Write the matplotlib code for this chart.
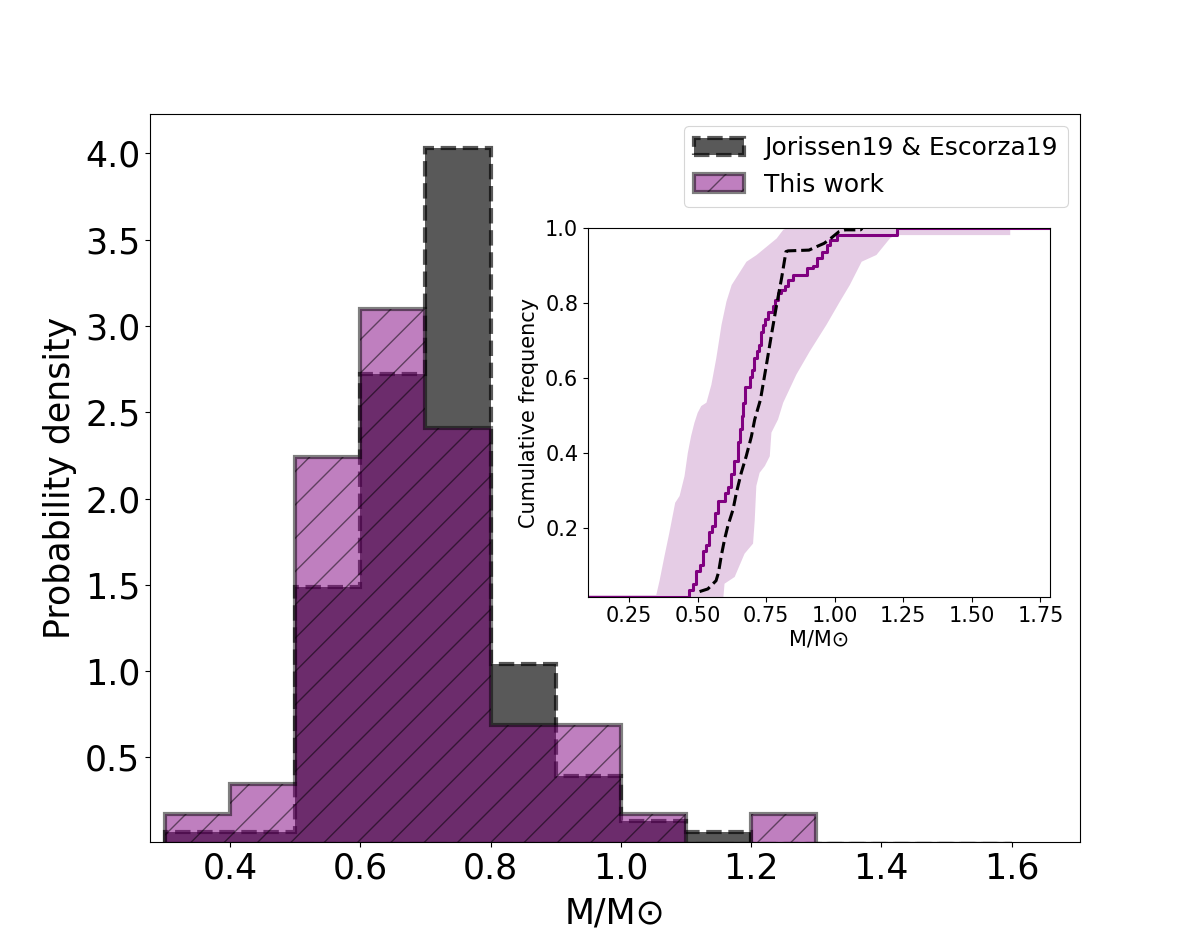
import matplotlib
matplotlib.use("Agg")
import matplotlib.pyplot as plt
import numpy as np

# histogram bins (M/Msun) and probability densities per bin
bin_edges = [0.3, 0.4, 0.5, 0.6, 0.7, 0.8, 0.9, 1.0, 1.1, 1.2, 1.3, 1.4, 1.5, 1.6]
jorissen_density = [0.065, 0.065, 1.49, 2.72, 4.03, 1.04, 0.39, 0.13, 0.065, 0.0, 0.0, 0.0, 0.0]
this_work_density = [0.172, 0.345, 2.24, 3.10, 2.41, 0.69, 0.69, 0.172, 0.0, 0.172, 0.0, 0.0, 0.0]

# cumulative curve of this work (step knots)
cdf_work_x = [0.100, 0.470, 0.482, 0.495, 0.507, 0.519, 0.532, 0.543, 0.552, 0.562,
              0.574, 0.599, 0.610, 0.622, 0.633, 0.647, 0.656, 0.660, 0.666, 0.672,
              0.690, 0.697, 0.705, 0.715, 0.722, 0.730, 0.740, 0.745, 0.757, 0.775,
              0.782, 0.792, 0.805, 0.820, 0.830, 0.848, 0.897, 0.921, 0.934, 0.952,
              0.970, 0.983, 1.007, 1.226, 1.785]
cdf_work_y = [0.017, 0.034, 0.052, 0.086, 0.103, 0.138, 0.155, 0.190, 0.207, 0.241,
              0.272, 0.293, 0.310, 0.345, 0.379, 0.431, 0.466, 0.500, 0.534, 0.578,
              0.603, 0.621, 0.655, 0.672, 0.690, 0.724, 0.741, 0.759, 0.778, 0.793,
              0.810, 0.828, 0.836, 0.845, 0.862, 0.876, 0.893, 0.900, 0.920, 0.938,
              0.955, 0.969, 0.983, 1.000, 1.000]

# cumulative curve of Jorissen19 & Escorza19
cdf_jor_x = [0.507, 0.537, 0.567, 0.576, 0.586, 0.598, 0.610, 0.629, 0.641, 0.659,
             0.677, 0.696, 0.708, 0.729, 0.751, 0.769, 0.788, 0.806, 0.822, 0.830,
             0.906, 0.930, 0.961, 0.985, 1.015, 1.039, 1.094, 1.100]
cdf_jor_y = [0.031, 0.038, 0.060, 0.082, 0.126, 0.170, 0.206, 0.250, 0.294, 0.348,
             0.392, 0.445, 0.490, 0.543, 0.637, 0.716, 0.796, 0.867, 0.938, 0.940,
             0.942, 0.950, 0.960, 0.973, 0.991, 0.996, 0.996, 1.000]

# uncertainty band of this work: left (low-mass) edge going up, right edge going down
band_left_x = [0.100, 0.100, 0.349, 0.361, 0.379, 0.397, 0.418, 0.434, 0.452, 0.464,
               0.476, 0.488, 0.500, 0.513, 0.532, 0.550, 0.568, 0.587, 0.605, 0.624,
               0.678, 0.715, 0.788, 0.812, 0.824, 1.640]
band_left_y = [0.000, 0.022, 0.022, 0.060, 0.126, 0.189, 0.268, 0.286, 0.339, 0.401,
               0.446, 0.481, 0.508, 0.526, 0.535, 0.583, 0.654, 0.743, 0.805, 0.849,
               0.911, 0.929, 0.973, 0.996, 1.000, 1.000]
band_right_x = [1.640, 1.219, 1.201, 1.152, 1.098, 1.055, 1.019, 0.970, 0.909, 0.860,
                0.812, 0.793, 0.769, 0.763, 0.745, 0.726, 0.714, 0.708, 0.702, 0.671,
                0.635, 0.598, 0.592]
band_right_y = [0.982, 0.982, 0.973, 0.929, 0.911, 0.849, 0.805, 0.743, 0.672, 0.610,
                0.535, 0.490, 0.455, 0.392, 0.366, 0.348, 0.313, 0.220, 0.159, 0.132,
                0.070, 0.052, 0.000]

plt.rcParams["hatch.linewidth"] = 0.5
plt.rcParams["axes.linewidth"] = 0.4
for ax_name in ("xtick", "ytick"):
    plt.rcParams[f"{ax_name}.major.size"] = 1.75
    plt.rcParams[f"{ax_name}.major.width"] = 0.4
    plt.rcParams[f"{ax_name}.major.pad"] = 1.75

fig = plt.figure(figsize=(6, 4.73), dpi=200)
ax = fig.add_subplot(111)

centers = 0.5 * (np.array(bin_edges[:-1]) + np.array(bin_edges[1:]))
ax.hist(centers, bins=bin_edges, weights=jorissen_density, histtype="stepfilled",
        facecolor="k", edgecolor="k", alpha=0.65, linestyle="--", linewidth=1.5,
        label="Jorissen19 & Escorza19")
ax.hist(centers, bins=bin_edges, weights=this_work_density, histtype="stepfilled",
        facecolor="purple", edgecolor="k", alpha=0.5, linewidth=1.5, hatch="//",
        label="This work")

ax.set_xlim(0.277, 1.705)
ax.set_ylim(bottom=0.01)
ax.set_xlabel("M/M⊙", fontsize=12.5)
ax.set_ylabel("Probability density", fontsize=12.5, labelpad=3)
ax.tick_params(labelsize=12.5)
leg = ax.legend(loc="upper right", fontsize=9)
leg.get_frame().set_linewidth(0.4)

# inset: cumulative distributions
axin = fig.add_axes([0.49, 0.3692, 0.385, 0.3894])
axin.fill(np.r_[band_left_x, band_right_x], np.r_[band_left_y, band_right_y],
          color="purple", alpha=0.2, linewidth=0)
axin.plot(cdf_work_x, cdf_work_y, drawstyle="steps-post", color="purple", lw=1.1)
axin.plot(cdf_jor_x, cdf_jor_y, color="k", ls="--", lw=1.1)
axin.set_xlim(0.1, 1.785)
axin.set_ylim(1 / 58, 1.0)
axin.set_xlabel("M/M⊙", fontsize=7.5, labelpad=1)
axin.set_ylabel("Cumulative frequency", fontsize=7.5, labelpad=2)
axin.tick_params(labelsize=7.5)

fig.savefig("out.png", dpi=200)
